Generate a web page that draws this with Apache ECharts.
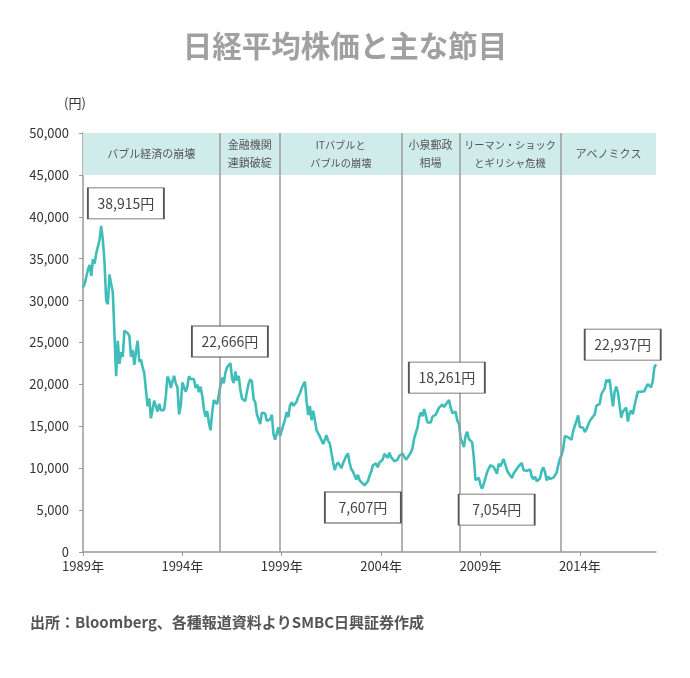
<!DOCTYPE html>
<html>
<head>
<meta charset="utf-8">
<script src="https://cdn.jsdelivr.net/npm/echarts@6/dist/echarts.min.js"></script>
<style>html,body{margin:0;padding:0;background:#fff}#c{width:690px;height:678px}</style>
</head>
<body>
<div id="c"></div>
<script>
// Monthly Nikkei 225 closes, Jan 1989 – Nov 2017
const startYear = 1989;
const y1989 = [31581,31985,32839,33713,34267,32949,34954,34431,35637,35549,37269,38916];
const y1990 = [37189,34592,29980,29585,33131,31940,31036,25978,20984,25194,22455,23849];
const y1991 = [23293,26409,26292,26111,25790,23291,24121,22336,23916,25222,22687,22984];
const y1992 = [22023,21339,19346,17391,18348,15952,15910,18061,17399,16767,17684,16925];
const y1993 = [17024,16953,18591,20919,20552,19590,20380,21027,20106,19703,16408,17417];
const y1994 = [20229,19997,19112,19725,20974,20644,20449,20629,19564,19990,19076,19723];
const y1995 = [18650,17053,16140,16807,15437,14517,16678,18117,17913,17655,18744,19868];
const y1996 = [20813,20125,21407,22041,21956,22531,20693,20167,21556,20467,21020,19361];
const y1997 = [18330,18557,18003,19151,20069,20605,20331,18229,17888,16459,16636,15259];
const y1998 = [16628,16832,16527,15641,15671,15830,16379,14108,13406,13565,14884,13842];
const y1999 = [14499,14367,15837,16702,16112,17530,17862,17437,17605,17942,18558,18934];
const y2000 = [19540,19960,20337,17974,16332,17411,15727,16861,15747,14540,14649,13786];
const y2001 = [13843,12884,12999,13934,13262,12969,11861,10714,9775,10367,10697,10543];
const y2002 = [9998,10588,11025,11493,11764,10622,9878,9619,9383,8640,9216,8579];
const y2003 = [8340,8363,7973,7831,8425,9083,9563,10344,10219,10560,10101,10677];
const y2004 = [10784,11042,11715,11762,11236,11858,11326,11082,10824,10771,11031,11489];
const y2005 = [11388,11741,11669,11009,11277,11584,11900,12414,13574,13607,14872,16111];
const y2006 = [16650,16206,17060,16907,15468,15506,15457,16141,16128,16399,16274,17226];
const y2007 = [17383,17604,17288,17400,17876,18138,17249,16569,16786,16738,15681,15308];
const y2008 = [13592,13603,12526,13850,14339,13481,13377,13073,11260,8577,8512,8860];
const y2009 = [7994,7568,8110,8828,9523,9958,10357,10493,10133,10035,9346,10546];
const y2010 = [10198,10126,11090,11057,9769,9383,9537,8824,9369,9202,9937,10229];
const y2011 = [10238,10624,9755,9850,9694,9816,9833,8955,8700,8988,8435,8455];
const y2012 = [8803,9723,10084,9521,8543,9007,8695,8840,8870,8928,9446,10395];
const y2013 = [11139,11559,12398,13861,13775,13677,13668,13389,14456,14328,15662,16291];
const y2014 = [14915,14841,14828,14304,14632,15162,15621,15425,16174,16414,17460,17451];
const y2015 = [17674,18798,19207,19520,20563,20236,20585,18890,17388,19083,19747,19034];
const y2016 = [17518,16027,16759,16666,17235,15576,16569,16887,16450,17425,18308,19114];
const y2017 = [19041,19119,18909,19197,19651,20033,19925,19646,20356,22012,22400];

const closes = [].concat(y1989,y1990,y1991,y1992,y1993,y1994,y1995,y1996,y1997,y1998,
  y1999,y2000,y2001,y2002,y2003,y2004,y2005,y2006,y2007,y2008,y2009,y2010,y2011,y2012,
  y2013,y2014,y2015,y2016,y2017);

// Year tick labels (month index from Jan 1989)
const tickMonths = [0,60,120,180,240,300];
const tickLabels = ['1989年','1994年','1999年','2004年','2009年','2014年'];

// Period boundaries (month index) and names
const periodBounds = [0, 82.5, 118.9, 192.4, 227.2, 288.5, 346];
const periodNames = ['バブル経済の崩壊','金融機関\n連鎖破綻','ITバブルと\nバブルの崩壊','小泉郵政\n相場','リーマン・ショック\nとギリシャ危機','アベノミクス'];

// Annotation labels
const noteTexts = ['38,915円','22,666円','7,607円','18,261円','7,054円','22,937円'];
// Annotation box centres (month index, yen)
const noteX = [25.9, 88.7, 169, 219.7, 249.8, 325.9];
const noteY = [41590, 25120, 5310, 20820, 5070, 24760];

const FONT = '"Noto Sans CJK JP", "Noto Sans", sans-serif';
const lineData = closes.map((v, i) => [i, v]);

const chart = echarts.init(document.getElementById('c'), null, {renderer: 'canvas'});
chart.setOption({
  animation: false,
  textStyle: {fontFamily: FONT},
  title: [
    {text: '日経平均株価と主な節目', left: 'center', top: 26,
     textStyle: {fontSize: 29.5, color: '#a0a0a0', fontWeight: 'bold', fontFamily: FONT}},
    {text: '出所：Bloomberg、各種報道資料よりSMBC日興証券作成', left: 25, top: 610,
     textStyle: {fontSize: 15, color: '#555', fontWeight: 'bold', fontFamily: FONT}}
  ],
  grid: {left: 83, right: 34, top: 133, bottom: 126, containLabel: false},
  xAxis: {
    type: 'value', min: 0, max: closes.length - 1, interval: 60,
    axisLine: {lineStyle: {color: '#999', width: 1.5}},
    axisTick: {show: true, length: 4, customValues: tickMonths, lineStyle: {color: '#999'}},
    axisLabel: {customValues: tickMonths, color: '#333', fontSize: 13, margin: 8, fontFamily: FONT,
      formatter: v => tickLabels[tickMonths.indexOf(v)] || ''},
    splitLine: {show: false}
  },
  yAxis: {
    type: 'value', min: 0, max: 50000, interval: 5000,
    name: '(円)', nameLocation: 'end', nameGap: 23,
    nameTextStyle: {color: '#333', fontSize: 13, align: 'center', padding: [0, 16, 0, 0], fontFamily: FONT},
    axisLine: {show: true, lineStyle: {color: '#999', width: 1.5}},
    axisTick: {show: true, length: 4, lineStyle: {color: '#999'}},
    axisLabel: {color: '#333', fontSize: 13, margin: 14, fontFamily: FONT,
      formatter: v => v.toLocaleString('en-US')},
    splitLine: {show: false}
  },
  series: [
    {
      type: 'line', data: [], z: 1, silent: true,
      markArea: {
        silent: true,
        itemStyle: {color: '#cfeceb'},
        label: {show: true, position: 'inside', color: '#555', fontSize: 11, lineHeight: 18, fontFamily: FONT},
        data: periodNames.map((n, i) => [
          {name: n, xAxis: periodBounds[i], yAxis: 45000,
           label: n.length > 12 ? {fontSize: 10.2} : undefined},
          {xAxis: periodBounds[i + 1], yAxis: 50000}
        ])
      }
    },
    {
      type: 'line', data: [], z: 2, silent: true,
      markLine: {
        silent: true, symbol: 'none', label: {show: false},
        lineStyle: {color: '#9a9a9a', width: 1.5, type: 'solid'},
        data: periodBounds.slice(1, -1).map(x => ({xAxis: x}))
      }
    },
    {
      type: 'line', data: lineData, z: 3, showSymbol: false, symbol: 'none',
      lineStyle: {color: '#3fbdb9', width: 2.6},
      markPoint: {
        silent: true, symbol: 'rect', symbolSize: [76, 31],
        itemStyle: {color: '#fff', borderColor: '#555', borderWidth: 1.2},
        label: {show: true, color: '#444', fontSize: 14, fontFamily: FONT, formatter: p => p.name},
        data: noteTexts.map((t, i) => ({name: t, coord: [noteX[i], noteY[i]]}))
      }
    }
  ]
});
</script>
</body>
</html>
